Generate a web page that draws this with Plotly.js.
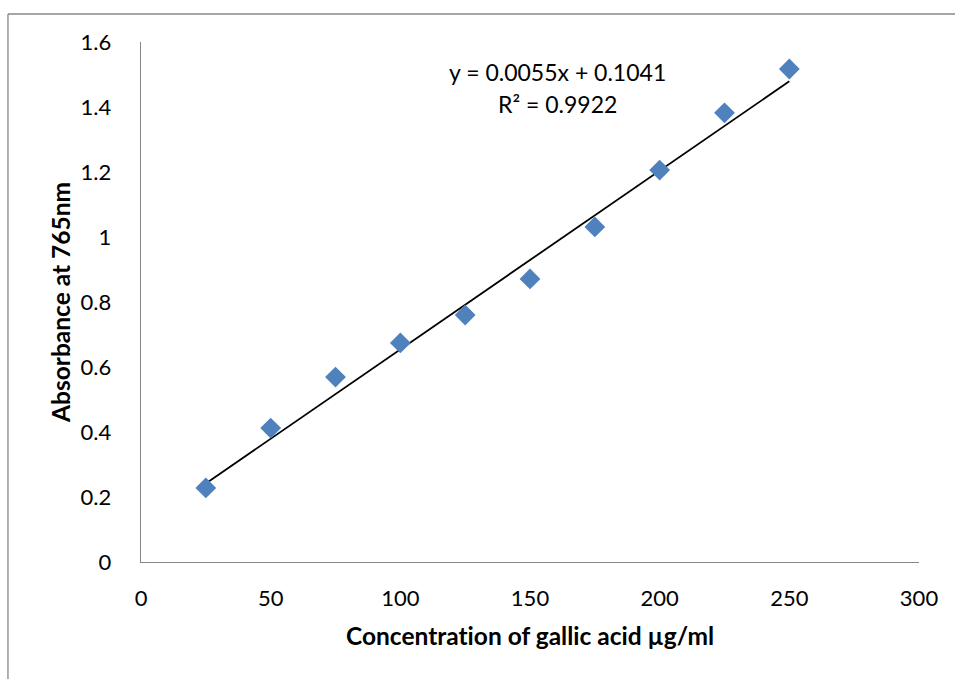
<!DOCTYPE html>
<html>
<head>
<meta charset="utf-8">
<script src="https://cdn.plot.ly/plotly-3.0.1.min.js"></script>
<style>html,body{margin:0;padding:0;background:#fff;}#chart{width:955px;height:679px;}svg text{font-variant-ligatures:none;font-feature-settings:"liga" 0;}</style>
</head>
<body>
<div id="chart"></div>
<script>
// Data
var concentration = [25, 50, 75, 100, 125, 150, 175, 200, 225, 250];
var absorbance = [0.228, 0.412, 0.569, 0.674, 0.760, 0.871, 1.031, 1.206, 1.382, 1.517];
var xTickVals = [0, 50, 100, 150, 200, 250, 300];
var yTickVals = [0, 0.2, 0.4, 0.6, 0.8, 1, 1.2, 1.4, 1.6];
var yTickText = ['0', '0.2', '0.4', '0.6', '0.8', '1', '1.2', '1.4', '1.6'];
var slope = 0.0055;
var intercept = 0.1041;
var equationText = 'y = 0.0055x + 0.1041';
var r2Text = 'R² = 0.9922';

var xMin = concentration[0], xMax = concentration[concentration.length - 1];
var trendX = [xMin, xMax];
var trendY = trendX.map(function (x) { return slope * x + intercept; });

var font = 'Lato, "Open Sans", sans-serif';

var traces = [
  {
    x: trendX, y: trendY, type: 'scatter', mode: 'lines',
    line: {color: '#000000', width: 1.8}, hoverinfo: 'skip', showlegend: false
  },
  {
    x: concentration, y: absorbance, type: 'scatter', mode: 'markers',
    marker: {symbol: 'diamond', size: 16, color: '#4F81BD', line: {width: 0}},
    showlegend: false
  }
];

var layout = {
  width: 955, height: 679,
  margin: {l: 141, r: 36, t: 42, b: 117},
  paper_bgcolor: '#ffffff', plot_bgcolor: '#ffffff',
  font: {family: font, color: '#000000', size: 22},
  showlegend: false,
  xaxis: {
    range: [0, 300], tickvals: xTickVals, showgrid: false, zeroline: false,
    showline: true, linecolor: '#868686', linewidth: 1.3,
    ticks: 'outside', ticklen: 0, ticklabelstandoff: 16,
    tickfont: {family: font, size: 22},
    title: {text: 'Concentration of gallic acid µg/ml', font: {family: font, size: 24.5, weight: 'bold'}, standoff: 18}
  },
  yaxis: {
    range: [0, 1.6], tickvals: yTickVals, ticktext: yTickText, showgrid: false, zeroline: false,
    showline: true, linecolor: '#868686', linewidth: 1.3,
    ticks: 'outside', ticklen: 0, ticklabelstandoff: 24,
    tickfont: {family: font, size: 22},
    title: {text: 'Absorbance at 765nm', font: {family: font, size: 24.5, weight: 'bold'}, standoff: 3}
  },
  annotations: [
    {xref: 'paper', yref: 'paper', x: 0.535, y: 0.942, text: equationText, showarrow: false,
     xanchor: 'center', yanchor: 'middle', font: {family: font, size: 23}},
    {xref: 'paper', yref: 'paper', x: 0.535, y: 0.881, text: r2Text, showarrow: false,
     xanchor: 'center', yanchor: 'middle', font: {family: font, size: 23}}
  ],
  shapes: [
    {type: 'line', xref: 'paper', yref: 'paper', x0: -0.171, x1: -0.171, y0: -0.3, y1: 1.0538,
     line: {color: '#878787', width: 1.3}},
    {type: 'line', xref: 'paper', yref: 'paper', x0: -0.171, x1: 1.1, y0: 1.0538, y1: 1.0538,
     line: {color: '#878787', width: 1.3}}
  ]
};

Plotly.newPlot('chart', traces, layout, {displayModeBar: false, staticPlot: true});
</script>
</body>
</html>
